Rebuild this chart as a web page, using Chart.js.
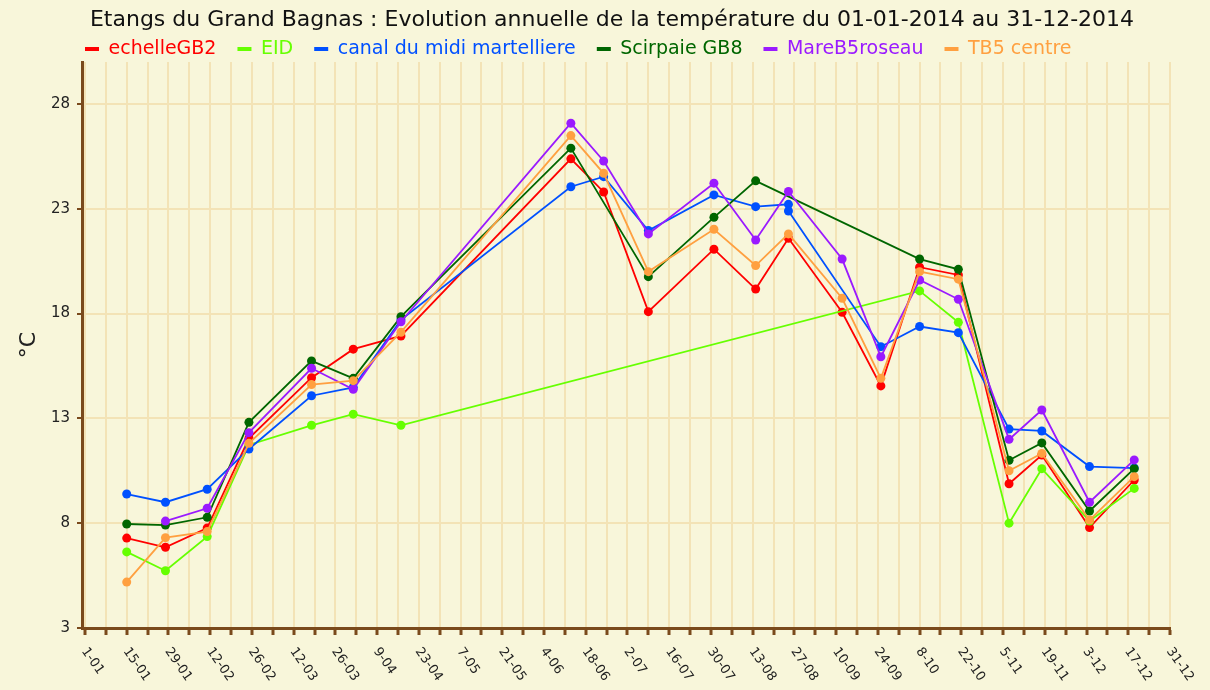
<!DOCTYPE html>
<html>
<head>
<meta charset="utf-8">
<script src="https://cdn.jsdelivr.net/npm/chart.js@4.4.1/dist/chart.umd.min.js"></script>
<style>
html,body{margin:0;padding:0;background:#f8f6da;}
#wrap{width:1210px;height:690px;position:relative;}
canvas{display:block;}
</style>
</head>
<body>
<div id="wrap"><canvas id="c" width="1210" height="690"></canvas></div>
<script>
const titleText = 'Etangs du Grand Bagnas : Evolution annuelle de la température du 01-01-2014 au 31-12-2014';
const yAxisTitle = '°C';

// measurement dates (day-month 2014)
const sampleDates = ['15-01','28-01','11-02','25-02','18-03','01-04','17-04','13-06','24-06','09-07','31-07','14-08','25-08','25-08','12-09','25-09','08-10','21-10','07-11','18-11','04-12','19-12'];

const seriesNames  = ['echelleGB2','EID','canal du midi martelliere','Scirpaie GB8','MareB5roseau','TB5 centre'];
const seriesColors = ['#ff0000','#66ff00','#0050ff','#006600','#9a1aff','#ffa040'];

const echelleGB2   = [7.29, 6.85, 7.77, 12.05, 14.94, 16.30, 16.93, 25.38, 23.80, 18.09, 21.07, 19.17, 21.59, null, 18.06, 14.55, 20.21, 19.84, 9.88, 11.25, 7.79, 10.06];
const eid          = [6.63, 5.73, 7.36, 11.73, 12.67, 13.20, 12.67, null, null, null, null, null, null, null, null, null, 19.08, 17.58, 8.00, 10.60, 8.10, 9.66];
const canalMidi    = [9.39, 9.00, 9.62, 11.54, 14.08, 14.48, 17.70, 24.05, 24.53, 21.96, 23.66, 23.10, 23.21, 22.89, null, 16.42, 17.38, 17.09, 12.49, 12.40, 10.70, 10.63];
const scirpaieGB8  = [7.96, 7.91, 8.28, 12.81, 15.74, 14.91, 17.85, 25.89, null, 19.76, 22.59, 24.33, null, null, null, null, 20.60, 20.11, 11.00, 11.83, 8.58, 10.60];
const mareB5roseau = [null, 8.10, 8.71, 12.32, 15.39, 14.39, 17.61, 27.08, 25.28, 21.80, 24.22, 21.51, 23.82, null, 20.60, 15.94, 19.60, 18.68, 12.00, 13.40, 9.00, 11.02];
const tb5Centre    = [5.19, 7.31, 7.60, 11.81, 14.61, 14.80, 17.11, 26.49, 24.69, 20.00, 22.02, 20.29, 21.80, null, 18.73, 14.91, 20.00, 19.64, 10.50, 11.33, 8.15, 10.22];

const seriesValues = [echelleGB2, eid, canalMidi, scirpaieGB8, mareB5roseau, tb5Centre];

const xTickLabels = ['1-01','15-01','29-01','12-02','26-02','12-03','26-03','9-04','23-04','7-05','21-05','4-06','18-06','2-07','16-07','30-07','13-08','27-08','10-09','24-09','8-10','22-10','5-11','19-11','3-12','17-12','31-12'];
const yTickValues = [3, 8, 13, 18, 23, 28];

function dayOfYear(s) {
  const [d, m] = s.split('-').map(Number);
  return (Date.UTC(2014, m - 1, d) - Date.UTC(2014, 0, 1)) / 86400000;
}
const sampleDays = sampleDates.map(dayOfYear);

const BG = '#f8f6da';
const GRID = '#f3e3b6';
const AXIS = '#7a4a1c';
const LEGEND_FONT = 19;
const LEGEND_PAD = 21;

const datasets = seriesNames.map((name, i) => {
  const pts = [];
  seriesValues[i].forEach((v, k) => { if (v !== null) pts.push({x: sampleDays[k], y: v}); });
  return {
    label: name,
    data: pts,
    borderColor: seriesColors[i],
    backgroundColor: seriesColors[i],
    pointBackgroundColor: seriesColors[i],
    pointBorderColor: seriesColors[i],
    pointBorderWidth: 0,
    pointRadius: 4.5,
    borderWidth: 1.8,
    tension: 0,
    order: -i
  };
});

const bgPlugin = {
  id: 'bg',
  beforeDraw(chart) {
    const ctx = chart.ctx;
    ctx.save();
    ctx.fillStyle = BG;
    ctx.fillRect(0, 0, chart.width, chart.height);
    ctx.restore();
  }
};

const layoutTweak = {
  id: 'layoutTweak',
  afterLayout(chart) {
    const t = chart.titleBlock;
    if (t) { t.left = 14; t.right = 1210; }
    const lg = chart.legend;
    if (lg) { lg.left = 85 - LEGEND_PAD; lg.top = 49 - LEGEND_FONT / 2 - LEGEND_PAD; }
  }
};

const xLabelPlugin = {
  id: 'xLabels',
  afterDraw(chart) {
    const xs = chart.scales.x;
    const ctx = chart.ctx;
    ctx.save();
    ctx.font = '13px "DejaVu Sans"';
    ctx.fillStyle = '#222';
    ctx.textAlign = 'left';
    ctx.textBaseline = 'middle';
    xTickLabels.forEach((lab, i) => {
      const px = xs.getPixelForValue(i * 14);
      ctx.save();
      ctx.translate(px - 1, 649);
      ctx.rotate(55 * Math.PI / 180);
      ctx.fillText(lab, 0, 0);
      ctx.restore();
    });
    ctx.restore();
  }
};

new Chart(document.getElementById('c'), {
  type: 'line',
  data: { datasets },
  plugins: [bgPlugin, layoutTweak, xLabelPlugin],
  options: {
    responsive: false,
    animation: false,
    devicePixelRatio: 1,
    layout: { padding: { left: 0, right: 40, top: 0, bottom: 0 } },
    plugins: {
      tooltip: { enabled: false },
      title: {
        display: true,
        text: titleText,
        color: '#111',
        font: { family: 'DejaVu Sans', size: 22, weight: 'normal' },
        padding: { top: 7, bottom: 0 }
      },
      legend: {
        display: true,
        position: 'top',
        align: 'start',
        maxHeight: 28.6,
        labels: {
          boxWidth: 14,
          boxHeight: 4,
          padding: LEGEND_PAD,
          font: { family: 'DejaVu Sans', size: LEGEND_FONT },
          generateLabels(chart) {
            return chart.data.datasets.map((ds, i) => ({
              text: ds.label,
              fillStyle: ds.borderColor,
              strokeStyle: ds.borderColor,
              lineWidth: 0,
              fontColor: ds.borderColor,
              hidden: false,
              datasetIndex: i
            }));
          }
        }
      }
    },
    scales: {
      x: {
        type: 'linear',
        min: -1,
        max: 364,
        afterBuildTicks(scale) {
          const t = [];
          for (let d = 0; d <= 364; d += 7) t.push({ value: d });
          scale.ticks = t;
        },
        afterFit(scale) { scale.height = 62; },
        ticks: { display: false, autoSkip: false },
        grid: {
          color: GRID,
          lineWidth: 2,
          drawTicks: true,
          tickLength: 7,
          tickColor: AXIS,
          tickWidth: 3
        },
        border: { display: true, color: AXIS, width: 3 }
      },
      y: {
        type: 'linear',
        min: 3,
        max: 30,
        afterBuildTicks(scale) { scale.ticks = yTickValues.map(v => ({ value: v })); },
        afterFit(scale) { scale.width = 82; },
        ticks: {
          color: '#222',
          padding: 7,
          font: { family: 'DejaVu Sans', size: 15 }
        },
        title: {
          display: true,
          text: yAxisTitle,
          color: '#222',
          font: { family: 'DejaVu Sans', size: 22 },
          padding: { top: 16, bottom: 0 }
        },
        grid: {
          color: GRID,
          lineWidth: 2,
          drawTicks: true,
          tickLength: 5,
          tickColor: AXIS,
          tickWidth: 2
        },
        border: { display: true, color: AXIS, width: 3 }
      }
    }
  }
});
</script>
</body>
</html>
